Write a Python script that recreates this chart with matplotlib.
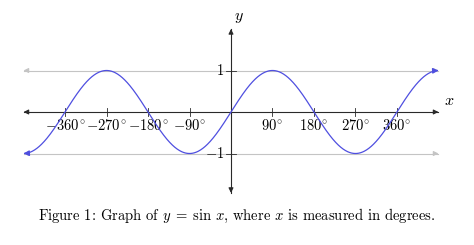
import numpy as np
import matplotlib
matplotlib.use("Agg")
import matplotlib.pyplot as plt

# x range of the curve (degrees) and the tick values
x_range = [-450, 450]
x_ticks = [-360, -270, -180, -90, 90, 180, 270, 360]
x_tick_labels = [r"$-360^{\!\circ}$", r"$-270^{\!\circ}$", r"$-180^{\!\circ}$", r"$-90^{\!\circ}$",
                 r"$90^{\!\circ}$", r"$180^{\!\circ}$", r"$270^{\!\circ}$", r"$360^{\!\circ}$"]
y_ticks = [1, -1]
y_tick_labels = [r"$1$", r"$-1$"]
y_axis_range = [-1.95, 2.0]
caption = r"Figure 1: Graph of $y\;=\;\sin\,x$, where $x$ is measured in degrees."

plt.rcParams["font.family"] = "serif"
plt.rcParams["font.serif"] = ["cmr10", "DejaVu Serif"]
plt.rcParams["mathtext.fontset"] = "cm"

W, H = 474, 245
fig = plt.figure(figsize=(W / 100, H / 100), dpi=100)
ax = fig.add_axes([0, 0, 1, 1])
ax.axis("off")

# pixel mapping: origin at (231,112), 0.461 px per degree, 41.5 px per unit
ox, oy, sx, sy = 231, 112, 0.461, 41.5
ax.set_xlim(-ox / sx, (W - ox) / sx)
ax.set_ylim(-(H - oy) / sy, oy / sy)

curve_col = "#4f4fe0"
gray = "#c4c4c4"
axis_col = "#2a2a2a"


def arrow(x0, y0, x1, y1, col, lw, ms=7, z=2):
    ax.annotate("", xy=(x1, y1), xytext=(x0, y0),
                arrowprops=dict(arrowstyle="-|>", color=col, lw=lw,
                                shrinkA=0, shrinkB=0, mutation_scale=ms),
                zorder=z)


# gray lines y=1, y=-1
for yv in y_ticks:
    ax.plot(x_range, [yv, yv], color=gray, lw=0.8, zorder=1)
    arrow(x_range[0] + 10, yv, x_range[0], yv, gray, 0.8, z=1)
    arrow(x_range[1] - 10, yv, x_range[1], yv, gray, 0.8, z=1)

# axes
ax.plot(x_range, [0, 0], color=axis_col, lw=0.8, zorder=2)
arrow(x_range[0] + 10, 0, x_range[0], 0, axis_col, 0.8)
arrow(x_range[1] - 10, 0, x_range[1], 0, axis_col, 0.8)
ax.plot([0, 0], y_axis_range, color=axis_col, lw=0.8, zorder=2)
arrow(0, y_axis_range[0] + 0.1, 0, y_axis_range[0], axis_col, 0.8)
arrow(0, y_axis_range[1] - 0.1, 0, y_axis_range[1], axis_col, 0.8)

# ticks
tk = 0.1
for xv, lab in zip(x_ticks, x_tick_labels):
    ax.plot([xv, xv], [-tk, tk], color=axis_col, lw=0.6, zorder=2)
    ax.text(xv, -0.15, lab, ha="center", va="top", fontsize=10.5, zorder=3)
for yv, lab in zip(y_ticks, y_tick_labels):
    ax.plot([-10, 10], [yv, yv], color=axis_col, lw=0.6, zorder=2)
    ax.text(-14, yv, lab, ha="right", va="center", fontsize=10.5, zorder=3)

ax.text(x_range[1] + 12, 0.1, r"$x$", ha="left", va="bottom", fontsize=11.5)
ax.text(6, y_axis_range[1] + 0.1, r"$y$", ha="left", va="bottom", fontsize=11.5)

# the curve y = sin x
xs = np.linspace(x_range[0], x_range[1], 901)
ys = np.sin(np.radians(xs))
ax.plot(xs[3:-3], ys[3:-3], color=curve_col, lw=0.9, zorder=4)
arrow(xs[4], ys[4], xs[0], ys[0], curve_col, 0.9, ms=8, z=5)
arrow(xs[-5], ys[-5], xs[-1], ys[-1], curve_col, 0.9, ms=8, z=5)

fig.text(237 / W, 1 - 216 / H, caption, ha="center", va="center", fontsize=10.5)

fig.savefig("out.png", dpi=100)
